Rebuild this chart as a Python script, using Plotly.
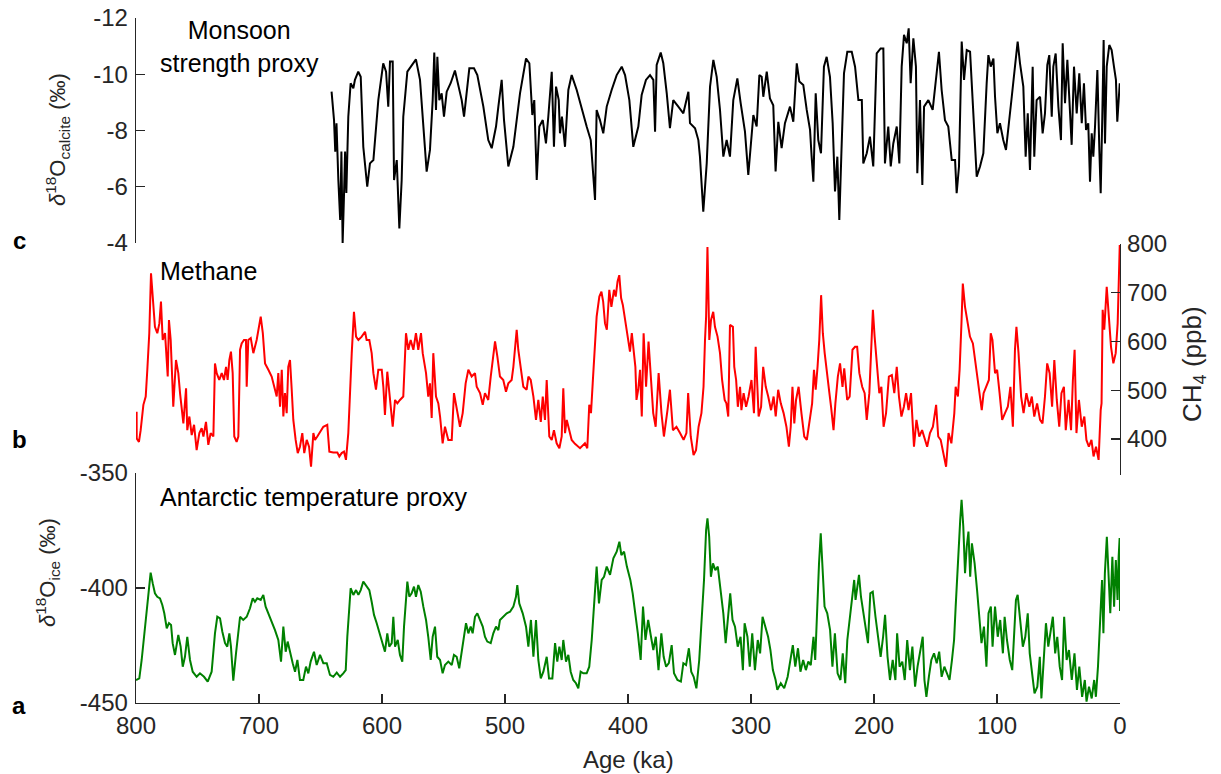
import plotly.graph_objects as go

# ---------------- data ----------------
monsoon_age = [641, 639, 638, 637, 635.5, 634, 633, 632, 631, 630, 629, 628.2, 627.4, 625.5, 623.3, 622, 619.3, 617.3,
               615.2, 612, 609.8, 607, 603, 599, 596.7, 594.9, 593.5, 591.3, 590.2, 588, 585.9, 584, 582.7, 579.4,
               575.9, 572.4, 569.1, 566.4, 563.7, 561, 558.8, 557.5, 556.1, 555, 553.4, 551.5, 549.6, 547.4, 544.2,
               540.7, 537.9, 535.2, 533.3, 531.1, 529, 525.2, 522.5, 517.6, 513.6, 510.8, 507.3, 505.4, 502.7, 500.8,
               497.3, 493.2, 487.8, 482.9, 480.2, 477.8, 476.2, 474.2, 472.1, 469.3, 466.7, 464.8, 462, 460.2, 458.5,
               456.3, 455.3, 453.7, 451.2, 448.5, 445.8, 441.7, 437.6, 433.6, 430.3, 426.8, 425.5, 422.8, 420.1, 417.3,
               413.3, 409.2, 405.1, 402.4, 398.9, 395.7, 391.6, 388.9, 385.4, 382.1, 379.4, 378, 376.7, 373.4, 371.3,
               368.5, 365.9, 363.2, 359.1, 355, 350.9, 349.6, 345.5, 342.8, 341.5, 338.8, 336, 333.3, 330.6, 327.9,
               325.2, 322.5, 319.8, 317.1, 314.4, 311.1, 308.4, 304.9, 302.2, 298.1, 295.4, 293.2, 291.3, 290, 287.2,
               284.6, 281.9, 280, 277.8, 275.1, 272.4, 268.3, 265.6, 262.8, 260.7, 257.5, 254.7, 252, 250.7, 249.3,
               247.4, 245.3, 243.1, 240.7, 238.5, 235.8, 233.6, 231.7, 229.8, 228.2, 226.6, 224.4, 221.7, 218.1, 215.4,
               212.7, 209.9, 208.7, 205.9, 203.3, 200.6, 197.8, 194.6, 192.4, 191.1, 188.4, 186.4, 184.3, 181.5, 179.4,
               177.5, 175.6, 173.4, 171.8, 170.2, 168, 165.9, 164.8, 162.6, 160.7, 159.3, 155.8, 152.3, 149, 147.2,
               145, 142.3, 139.6, 136.8, 134.1, 132.8, 130.9, 128.7, 126.8, 124.6, 121.9, 119.2, 116.5, 113.8, 111.1,
               108.4, 107, 105.1, 102.9, 101.6, 99.7, 97.6, 94.9, 92.7, 90.8, 88, 85.4, 83.2, 81.3, 78.6, 76.7, 75,
               73.2, 71, 69.7, 67.8, 65, 62.9, 61, 59.1, 57.5, 55.5, 54.2, 52.3, 50.1, 48, 46.6, 44.7, 42.8, 40.7,
               39.3, 37.4, 35.2, 33.1, 31.1, 29.3, 27.6, 25.8, 24.4, 23, 21.7, 20.3, 18.4, 16.8, 15.7, 14.4, 13.3,
               12.2, 10.8, 8.7, 6.8, 4.9, 3.3, 2.2, 1.1, 0.2]
monsoon_d18o = [-9.38, -8.37, -7.25, -8.26, -6.24, -4.82, -7.25, -4.0, -5.53, -7.25, -5.78, -7.25, -8.49, -9.68, -9.5,
                -9.8, -10.09, -9.91, -7.42, -6.0, -6.83, -6.95, -9.08, -10.39, -10.09, -8.85, -10.45, -10.45, -6.24,
                -6.95, -4.52, -6.24, -8.49, -10.09, -10.33, -10.53, -9.8, -8.14, -6.54, -7.31, -9.08, -10.77, -8.73,
                -10.62, -9.08, -9.32, -8.49, -9.38, -9.68, -10.13, -9.56, -9.08, -8.49, -9.5, -10.21, -10.21, -9.97,
                -8.85, -7.66, -7.37, -8.14, -8.85, -9.8, -8.37, -6.72, -7.42, -9.32, -10.56, -10.39, -8.55, -9.08,
                -6.24, -8.14, -8.37, -7.54, -8.49, -10.09, -7.42, -9.56, -9.08, -7.9, -8.49, -7.42, -9.44, -9.97,
                -9.44, -8.73, -8.14, -7.66, -5.53, -8.73, -8.37, -7.9, -8.85, -9.44, -9.97, -10.27, -9.97, -9.08,
                -7.42, -8.14, -9.26, -9.8, -9.97, -9.8, -7.96, -10.33, -10.77, -10.39, -9.32, -8.08, -9.08, -8.85,
                -8.61, -9.38, -8.26, -8.08, -7.66, -7.07, -5.11, -6.83, -9.56, -10.51, -9.91, -8.73, -7.07, -7.66,
                -7.07, -9.08, -9.85, -8.97, -7.96, -6.42, -8.55, -8.14, -9.97, -9.91, -9.2, -10.09, -9.14, -8.9,
                -6.54, -8.31, -7.37, -8.26, -8.85, -8.31, -10.39, -9.74, -9.62, -8.73, -8.02, -7.07, -6.18, -9.32,
                -7.66, -7.19, -10.27, -10.62, -9.91, -8.26, -5.83, -7.07, -4.82, -7.07, -10.03, -10.8, -10.8, -10.27,
                -9.08, -9.08, -6.83, -7.19, -7.78, -6.72, -10.74, -10.92, -10.92, -6.83, -8.14, -6.72, -7.54, -8.14,
                -6.83, -10.27, -11.4, -11.1, -11.63, -9.68, -11.28, -10.27, -6.48, -9.08, -6.06, -8.85, -9.08, -8.73,
                -10.15, -10.8, -9.44, -8.37, -8.14, -6.95, -6.95, -5.77, -6.72, -11.16, -9.8, -10.86, -10.8, -8.49,
                -6.36, -6.72, -7.19, -9.68, -10.68, -10.27, -10.56, -9.2, -7.9, -8.26, -7.66, -7.31, -8.02, -9.2,
                -10.27, -11.16, -10.39, -9.56, -7.07, -8.61, -6.6, -10.27, -7.07, -9.08, -9.2, -7.9, -8.61, -10.33,
                -10.68, -8.49, -10.27, -10.74, -8.85, -7.66, -11.1, -8.97, -10.51, -8.37, -7.49, -10.27, -8.61,
                -10.03, -8.26, -9.68, -8.02, -8.26, -6.18, -7.9, -7.07, -8.14, -10.15, -7.31, -5.77, -8.49, -11.22,
                -7.54, -10.27, -11.04, -10.86, -10.27, -9.8, -8.31, -9.08, -9.68]

methane_age = [799.5, 799.4, 797.6, 796.2, 794, 792.1, 790.8, 789.2, 787.8, 786.4, 784.6, 782.7, 781, 779.7, 778.3,
               776.4, 775, 774.2, 773.2, 771.8, 770.5, 769.7, 767.5, 765.6, 764.2, 762.8, 761.5, 759.3, 758.3, 756.6,
               754.7, 752.8, 750.7, 748.5, 746.6, 745.2, 743.1, 741.2, 739.3, 737.1, 735.8, 734.4, 732.3, 730.3, 728.5,
               726.8, 725.5, 724.1, 722.8, 721.4, 720.1, 718.2, 716.8, 715.4, 714.1, 712.2, 710.6, 710, 708.7, 706.7,
               704.6, 701.9, 699.7, 698.6, 696.9, 695.1, 692.4, 689.7, 687.6, 685.6, 684.3, 682.9, 681.5, 680.2, 678.9,
               677.5, 676.2, 674.8, 673.4, 672.1, 670.2, 668.5, 666.7, 664.8, 663.2, 661.2, 659.3, 657.7, 655.8, 654.5,
               652.6, 650.4, 647.7, 644.5, 642.8, 639.6, 636.3, 634.7, 632.8, 630.9, 629.3, 627.4, 626, 624.6, 622.8,
               621.1, 619.2, 616.5, 613.8, 612.5, 610.3, 608.4, 607, 604.9, 603, 600.2, 598.9, 597.6, 595.7, 593.5,
               591.3, 589.4, 587.5, 585.4, 582.7, 580.5, 578.6, 576.7, 574.5, 572.4, 570.5, 568.3, 566.9, 564.2, 562.4,
               561, 559.6, 558.3, 556.1, 554.2, 552.8, 550.7, 548.8, 546.1, 543.3, 541.5, 539.3, 536.6, 534.4, 532,
               529.8, 527.1, 524.4, 523, 520.3, 518.1, 516.3, 513.6, 511.6, 509.5, 508.1, 506.2, 504.1, 501.4, 499.2,
               497.3, 494.6, 493.2, 490.5, 489.2, 487.2, 485.1, 482.4, 481, 479.1, 476.9, 474.8, 472.9, 470.9, 469.3,
               467.5, 466.1, 464, 462, 460.2, 458, 455.8, 453.9, 452.6, 451.2, 449.8, 447.7, 445.8, 443.1, 439, 435,
               433.1, 431.5, 430.1, 428.7, 426.8, 425.5, 423.3,
               421.6, 420.2, 418.7, 417.2, 416.4, 415.2, 413.5, 411.4, 410.0, 408.5, 407.1, 405.6, 404.2, 401.9, 399.8,
               398.4, 396.9, 395.5, 394.0, 393.1, 391.7, 390.2, 388.8, 387.3, 385.3, 383.3, 381.5, 379.5, 377.5, 375.1,
               372.8, 370.8, 367.9, 365.9, 363.5, 360.6, 357.7, 354.8, 352.5, 351.1, 349.0, 346.7, 344.7, 342.6, 340.3,
               338.6, 337.4, 336.5, 335.4, 333.9, 332.5, 330.7, 329.3, 327.2, 325.2, 323.5, 321.4, 320.0, 318.5, 317.1,
               314.7, 313.6, 312.1, 310.7, 308.9, 307.8, 306.0, 304.0, 302.0, 299.6, 297.6, 296.2, 293.8, 291.8, 290.1,
               288.0, 286.0, 283.7, 281.6, 279.9, 277.9, 275.8, 273.5, 271.2, 269.2, 267.7, 266.3, 264.8, 263.4, 261.3,
               259.0, 256.7, 254.6, 252.6, 250.3, 248.8, 247.4, 245.9, 244.5, 243.0, 241.6, 240.1, 238.7, 236.6, 234.9,
               232.9, 231.4, 229.4, 227.6, 225.6, 224.2, 221.8, 219.8, 217.5, 215.4, 213.7, 211.9, 209.6, 207.6, 205.9,
               203.8, 202.4, 200.9, 199.5, 197.4, 195.7, 194.0, 192.2, 190.2, 187.9, 185.5, 183.5, 181.5, 179.7, 177.7,
               175.7, 173.9, 171.9, 169.9, 167.5, 165.5, 163.2, 160.9, 158.8, 156.8, 154.5, 152.1, 149.5, 147.8, 145.8,
               143.4, 141.4, 139.4, 137.1, 134.7, 133.6, 131.8, 130.4, 128.9, 127.8, 126.0, 124.0, 122.0, 119.6, 117.9,
               116.1, 114.4, 112.4, 110.9, 108.6, 106.6, 105.1, 103.7, 101.6, 99.9, 97.9, 95.8, 93.5, 91.2, 89.1, 87.1,
               85.4, 84.2, 82.5, 80.4, 78.4, 76.1, 73.7, 71.7, 69.7, 67.4, 65.0, 63.0, 61.0, 59.2, 57.2, 55.2, 53.4,
               51.4, 49.4, 47.6, 45.6, 44.1, 41.8, 39.8, 38.3, 36.9, 35.4, 33.4, 31.1, 29.0, 27.3, 25.3, 23.2, 21.5,
               19.5, 17.4, 15.7, 15.0, 14.1, 12.8, 10.8, 8.7, 7.3, 5.4, 3.5, 1.9, 0.2]
methane_ppb = [456, 401, 394, 418, 470, 487, 542, 617, 740, 685, 630, 617, 637, 682, 603, 617, 562, 528, 644, 603, 521,
               466, 562, 535, 494, 459, 432, 504, 418, 446, 408, 429, 377, 412, 422, 405, 435, 388, 412, 405, 555, 535,
               521, 535, 521, 548, 521, 562, 579, 535, 405, 394, 405, 583, 596, 603, 603, 507, 603, 607, 576, 603, 641,
               651, 617, 555, 542, 528, 507, 487, 535, 466, 542, 446, 494, 453, 548, 562, 501, 439, 398, 371, 384, 412,
               371, 398, 384, 343, 412, 398, 405, 415, 425, 429, 374, 372, 372, 364, 371, 374, 357, 412, 501, 576, 661,
               610, 603, 610, 620, 603, 603, 576, 535, 501, 542, 542, 507, 449, 538, 487, 425, 480, 473, 480, 487, 617,
               583, 603, 583, 617, 583, 617, 576, 535, 487, 514, 443, 576, 487, 473, 446, 391, 425, 398, 398, 494, 459,
               425, 453, 514, 542, 528, 535, 507, 494, 470, 494, 480, 528, 576, 600, 569, 528, 521, 497, 514, 521, 548,
               624, 583, 542, 507, 501, 528, 521, 487, 439, 480, 435, 487, 439, 521, 405, 398, 418, 391, 381, 405, 504,
               412, 439, 418, 398, 390, 381, 391, 381, 470, 453, 514, 603, 651, 692,
               702, 682, 637, 624, 658, 706, 671, 706, 692, 723, 736, 689, 675, 637, 603, 579, 617, 589, 548, 480, 501,
               542, 446, 617, 507, 600, 521, 453, 425, 535, 453, 405, 459, 501, 418, 425, 412, 398, 412, 494, 405, 367,
               377, 425, 453, 507, 603, 651, 794, 603, 644, 661, 630, 610, 576, 521, 480, 473, 446, 634, 630, 548, 521,
               466, 507, 459, 494, 466, 487, 521, 453, 589, 446, 466, 548, 507, 487, 459, 487, 446, 501, 473, 453, 425,
               384, 425, 507, 432, 480, 507, 453, 405, 398, 432, 473, 542, 501, 548, 603, 695, 617, 576, 542, 501, 466,
               418, 473, 528, 555, 507, 545, 480, 487, 583, 589, 589, 535, 507, 494, 439, 494, 596, 665, 610, 548, 494,
               507, 425, 453, 528, 531, 494, 548, 487, 446, 466, 494, 459, 494, 384, 439, 405, 418, 398, 384, 412, 425,
               470, 405, 398, 371, 343, 412, 391, 453, 507, 487, 542, 637, 719, 671, 637, 610, 596, 562, 535, 494, 459,
               494, 507, 521, 617, 603, 535, 542, 494, 439, 453, 466, 507, 425, 583, 630, 576, 487, 453, 494, 466, 487,
               446, 473, 439, 432, 487, 555, 535, 466, 562, 480, 425, 494, 507, 418, 480, 418, 521, 583, 412, 480, 425,
               446, 398, 384, 398, 364, 384, 357, 459, 473, 665, 624, 712, 637, 589, 555, 576, 637, 798]

ice_age = [800, 797.3, 795.4, 793.5, 791.3, 790, 788.1, 786.4, 784.6, 782.7, 780.5, 778.6, 777, 775, 773.2, 771.5,
           770.2, 768.3, 765.6, 763.7, 762, 760.2, 758.3, 756.1, 753.9, 750.7, 748, 744.7, 741.7, 738.5, 735.8, 733.9,
           731.7, 729.8, 727.6, 725.8, 724.1, 722.8, 720.9, 718.7, 716.8, 715.4, 712.8, 710, 707.3, 705.1, 703.3,
           701.4, 698.6, 696.5, 694.6, 692.4, 689.7, 687, 684.3, 682.1, 680.2, 678.3, 676.7, 674.8, 672.6, 670.7,
           668.8, 666.7, 664, 661.8, 659.9, 658, 655.3, 653.1, 650.4, 647.7, 644.9, 642.3, 639.6, 636.8, 634.1, 631.5,
           629.5, 628.2, 626.6, 625.5, 623.3, 621.1, 619.2, 617.3, 615.2, 612.5, 610.3, 608.4, 606.5, 604.3, 602.2,
           600.2, 597.6, 595.7, 594.1, 592.1, 590.8, 589.4, 587.2, 585.4, 583.5, 582.1, 580.5, 579.4, 577.8, 575.9,
           574, 572.4, 570.5, 568.5, 566.4, 564.2, 562.4, 560.4, 558.8, 556.9, 555.1, 552.8, 550.7, 548.8, 546.1,
           543.3, 541.5, 539.3, 537.2, 535.2, 533.3, 531.7, 529.8, 527.9, 526.3, 524.4, 522.5, 520.3, 518.1, 516.3,
           514.4, 511.6, 509.5, 507.3, 505.4, 504.1, 501.4, 498.6, 495.9, 493.2, 491.1, 490, 488.4, 485.6, 482.9, 481,
           478.9, 476.9, 474.8, 472.9, 470.9, 468.8, 466.1, 464.2, 461.5, 459.3, 457.5, 455.8, 453.9, 452.6, 450.4,
           448.5, 446.6, 444.5, 442.3, 440.4, 438.5, 436.3, 433.6, 431.5, 429.5, 427.6, 425.5, 423.6, 421.4, 419.5,
           417.3, 414.6, 411.9, 409.2, 407.0,
           405.4, 403.2, 400.9, 398.1, 396.2, 393.9, 392.0, 389.7, 387.8, 385.8, 383.6, 381.3, 379.4, 377.4, 375.2,
           372.9, 371.0, 369.0, 366.8, 364.5, 362.6, 359.8, 357.0, 355.0, 352.8, 350.5, 348.6, 346.6, 344.4, 342.1,
           340.2, 338.2, 336.5, 335.4, 334.0, 332.6, 330.9, 329.0, 327.0, 324.8, 322.5, 320.6, 318.6, 316.9, 315.0,
           313.0, 310.8, 308.5, 306.6, 305.2, 302.9, 301.0, 299.0, 296.8, 294.5, 292.6, 290.6, 288.4, 286.1, 284.2,
           282.2, 280.0, 278.6, 275.8, 273.0, 270.2, 268.2, 266.0, 264.0, 261.8, 259.8, 257.6, 255.4, 253.4, 251.4,
           249.2, 247.8, 246.4, 244.7, 243.3, 241.9, 240.2, 238.0, 235.7, 233.8, 231.8, 229.6, 227.3, 225.4, 223.4,
           221.7, 219.8, 217.8, 216.1, 215.0, 213.3, 212.2, 210.6, 208.6, 206.6, 204.9, 203.0, 201.0, 198.8, 196.6,
           194.6, 192.6, 191.0, 189.0, 187.0, 184.8, 182.6, 181.2, 179.2, 177.0, 175.0, 173.0, 170.8, 168.8, 166.6,
           164.6, 162.4, 160.4, 159.0, 157.4, 155.4, 153.4, 151.2, 149.0, 147.0, 145.0, 142.8, 140.6, 138.6, 136.6,
           134.9, 133.6, 131.6, 129.9, 128.8, 127.4, 126.0, 124.6, 123.2, 121.8, 120.4, 118.2, 116.2, 114.2, 112.6,
           110.6, 108.6, 106.9, 105.0, 103.6, 101.6, 99.4, 97.4, 95.2, 93.8, 91.9, 89.6, 87.6, 85.9, 84.6, 83.2, 81.2,
           79.0, 77.0, 75.0, 73.4, 71.4, 69.5, 67.2, 65.2, 63.9, 62.2, 60.2, 58.3, 56.6, 54.6, 52.7, 51.0, 49.0,
           47.1, 45.4, 43.4, 41.5, 39.2, 37.0, 35.0, 33.1, 30.8, 28.6, 27.2, 25.2, 23.0, 21.0, 19.6, 17.9, 16.3,
           14.6, 13.5, 12.3, 10.7, 9.0, 7.9, 6.2, 4.8, 3.4, 2.0, 1.1, 0.3, 0.0]
ice_d18o = [-440, -439.3, -431.3, -421.2, -408.1, -400.9, -393.3, -398, -402.3, -403.8, -404.5, -407.4, -411, -417.5,
            -415.3, -416.1, -424, -429.1, -420.4, -425.5, -434.2, -429.9, -421.2, -431.3, -436.4, -438.6, -437.1,
            -438.6, -440.7, -436.4, -419.7, -412.5, -413.2, -419, -424, -425.5, -419.7, -425.5, -440.3, -428.4,
            -418.3, -412.5, -413.9, -412.5, -408.8, -404.5, -406, -404.5, -405.2, -403, -408.1, -411, -413.9, -418.3,
            -422.6, -432, -416.8, -427.7, -423.3, -428.4, -432.7, -436.4, -431.3, -440, -440, -434.2, -437.1, -432,
            -427.7, -433.5, -429.1, -432.7, -432.7, -437.8, -438.6, -436.8, -438.6, -437.1, -435.7, -421.2, -408.1,
            -400.1, -403, -400.9, -403, -400.9, -397.2, -399.4, -400.9, -406, -411.7, -415.3, -419, -422.6, -427.7,
            -419.7, -425.5, -424, -412.5, -425.5, -422.6, -429.1, -432, -416.8, -402.3, -397.2, -403.8, -402.3,
            -399.4, -403.8, -398.7, -401.6, -408.1, -413.9, -421.2, -431.3, -421.2, -416.8, -429.9, -431.3, -437.1,
            -433.5, -432, -433.5, -429.1, -429.9, -434.9, -428.4, -421.2, -415.3, -419.7, -416.8, -419.7, -412.5,
            -411, -413.9, -416.8, -421.2, -423.3, -424, -419.7, -416.8, -418.3, -413.9, -412.5, -411, -410.3,
            -408.1, -403.8, -398.7, -406.7, -411, -416.8, -425.5, -413.9, -429.9, -413.9, -431.3, -439.3, -436.4,
            -429.9, -439.3, -439.3, -424, -432, -425.5, -431.3, -422.6, -432, -429.1, -436.4, -440, -441.4, -443.6,
            -436.4, -437.1, -437.1, -434.2, -422.6, -405.2, -390.7, -406.7, -396.5, -395.1, -390.7, -394.3, -387.1,
            -384.2, -379.9,
            -385.7, -384.2, -390.7, -396.5, -402.3, -411, -419.7, -431.3, -408.1, -422.6, -413.9, -421.2, -427,
            -421.2, -435.7, -419.7, -429.9, -434.2, -432.7, -424.8, -437.1, -440, -440.7, -432.7, -433.5, -426.2,
            -436.4, -438.6, -443.6, -431.3, -413.9, -396.5, -374.8, -369.7, -377.7, -395.1, -389.3, -392.2, -390.7,
            -400.9, -411, -424, -413.9, -402.3, -413.9, -416.8, -425.5, -421.2, -435.7, -415.3, -421.2, -434.2,
            -419.7, -435.7, -422.6, -428.4, -412.5, -416.8, -421.2, -427, -435.7, -440, -444.3, -441.4, -443.6,
            -438.6, -431.3, -424.8, -434.2, -426.2, -436.4, -431.3, -435.7, -432, -433.5, -421.2, -431.3, -411,
            -389.3, -376.2, -393.6, -408.1, -411, -418.3, -434.2, -419.7, -437.1, -440, -428.4, -441.4, -422.6,
            -413.9, -402.3, -396.5, -405.2, -399.4, -394.3, -403.8, -411, -416.8, -424, -402.3, -401.6, -412.5,
            -422.6, -429.9, -421.2, -411.7, -429.9, -440, -431.3, -440, -419.7, -434.2, -432, -440, -422.6, -435.7,
            -425.5, -442.9, -434.2, -427, -421.2, -440, -447.3, -438.6, -431.3, -428.4, -432.7, -427.7, -438.6,
            -434.2, -437.1, -440, -431.3, -422.6, -408.1, -384.9, -370.4, -361.7, -373.3, -393.6, -382, -375.5,
            -395.1, -380.6, -389.3, -400.9, -413.9, -424, -416.8, -434.2, -411, -408.1, -425.5, -408.1, -421.2,
            -413.9, -428.4, -412.5, -422.6, -431.3, -435.7, -416.8, -405.2, -403, -413.9, -425.5, -421.2, -411,
            -428.4, -437.1, -445.8, -442.9, -429.9, -448, -434.2, -415.3, -425.5, -419.7, -412.5, -428.4, -421.2,
            -434.2, -440, -412.5, -431.3, -427, -440, -428.4, -444.3, -434.2, -447.3, -440, -449.4, -442.9, -448,
            -440, -447.3, -434.2, -413.9, -396.5, -419.7, -393.6, -377.7, -396.5, -411, -386.4, -408.1, -387.8,
            -405.2, -386.4, -378.3, -410]

age_ticks = [800, 700, 600, 500, 400, 300, 200, 100, 0]
age_ticktext = ["800", "700", "600", "500", "400", "300", "200", "100", "0"]
ice_ticks = [-450, -400, -350]
ice_ticktext = ["-450", "-400", "-350"]
ch4_ticks = [400, 500, 600, 700, 800]
ch4_ticktext = ["400", "500", "600", "700", "800"]
calcite_ticks = [-12, -10, -8, -6, -4]
calcite_ticktext = ["-12", "-10", "-8", "-6", "-4"]

assert len(monsoon_age) == len(monsoon_d18o), (len(monsoon_age), len(monsoon_d18o))
assert len(methane_age) == len(methane_ppb), (len(methane_age), len(methane_ppb))
assert len(ice_age) == len(ice_d18o), (len(ice_age), len(ice_d18o))

# ---------------- layout helpers ----------------
W, H = 1221, 774
FONT = "Liberation Sans, Arial, Helvetica, sans-serif"
AXC = "#262626"


def fx(px):
    return px / W


def fy(py):
    return 1 - py / H


fig = go.Figure()
fig.add_trace(go.Scatter(x=ice_age, y=ice_d18o, xaxis="x", yaxis="y", mode="lines",
                         line=dict(color="#008000", width=2), hoverinfo="skip", showlegend=False))
fig.add_trace(go.Scatter(x=methane_age, y=methane_ppb, xaxis="x", yaxis="y2", mode="lines",
                         line=dict(color="#ff0000", width=2), hoverinfo="skip", showlegend=False))
fig.add_trace(go.Scatter(x=monsoon_age, y=monsoon_d18o, xaxis="x", yaxis="y3", mode="lines",
                         line=dict(color="#000000", width=2), hoverinfo="skip", showlegend=False))

common = dict(showgrid=False, zeroline=False, showline=True, linecolor=AXC, linewidth=1.3,
              ticks="inside", ticklen=9, tickwidth=1.3, tickcolor=AXC, automargin=False,
              tickfont=dict(family=FONT, size=24, color=AXC), fixedrange=True)

fig.update_layout(
    width=W, height=H, margin=dict(l=0, r=0, t=0, b=0, pad=0, autoexpand=False),
    paper_bgcolor="white", plot_bgcolor="white",
    xaxis=dict(domain=[fx(136), fx(1120)], range=[800, 0], anchor="y",
               tickmode="array", tickvals=age_ticks, ticktext=age_ticktext,
               ticklabelstandoff=1, **common),
    yaxis=dict(domain=[fy(703), fy(473)], range=[-450, -350], anchor="x", side="left",
               tickmode="array", tickvals=ice_ticks, ticktext=ice_ticktext,
               ticklabelstandoff=2, **common),
    yaxis2=dict(domain=[fy(475), fy(244)], range=[326, 800], anchor="x", side="right",
                tickmode="array", tickvals=ch4_ticks, ticktext=ch4_ticktext,
                ticklabelstandoff=1, **common),
    yaxis3=dict(domain=[fy(243), fy(18)], range=[-4, -12], anchor="x", side="left",
                tickmode="array", tickvals=calcite_ticks, ticktext=calcite_ticktext,
                ticklabelstandoff=2, **common),
)

ann = []


def add_text(text, px, py, size=25, xanchor="left", yanchor="middle", angle=0, color="#000000", bold=False):
    if bold:
        text = "<b>" + text + "</b>"
    ann.append(dict(text=text, x=fx(px), y=fy(py), xref="paper", yref="paper",
                    xanchor=xanchor, yanchor=yanchor, textangle=angle, showarrow=False,
                    font=dict(family=FONT, size=size, color=color)))


add_text("Monsoon<br>strength proxy", 158, 47, size=25)
add_text("Methane", 158, 271, size=25)
add_text("Antarctic temperature proxy", 158, 497, size=25)
add_text("<i>δ</i><sup>18</sup>O<sub>calcite</sub> (‰)", 58, 140, size=22, xanchor="center", angle=-90, color=AXC)
add_text("<i>δ</i><sup>18</sup>O<sub>ice</sub> (‰)", 47, 573, size=22, xanchor="center", angle=-90, color=AXC)
add_text("CH<sub>4</sub> (ppb)", 1193, 364, size=26, xanchor="center", angle=-90, color=AXC)
add_text("Age (ka)", 628, 759, size=24, xanchor="center", color=AXC)
add_text("c", 19, 240, size=24, xanchor="center", bold=True)
add_text("b", 19, 439, size=24, xanchor="center", bold=True)
add_text("a", 19, 705, size=24, xanchor="center", bold=True)

fig.update_layout(annotations=ann)

fig.write_html("out.html", config={"displayModeBar": False, "staticPlot": True},
               post_script="document.body.style.margin='0px'; document.body.style.overflow='hidden';")
